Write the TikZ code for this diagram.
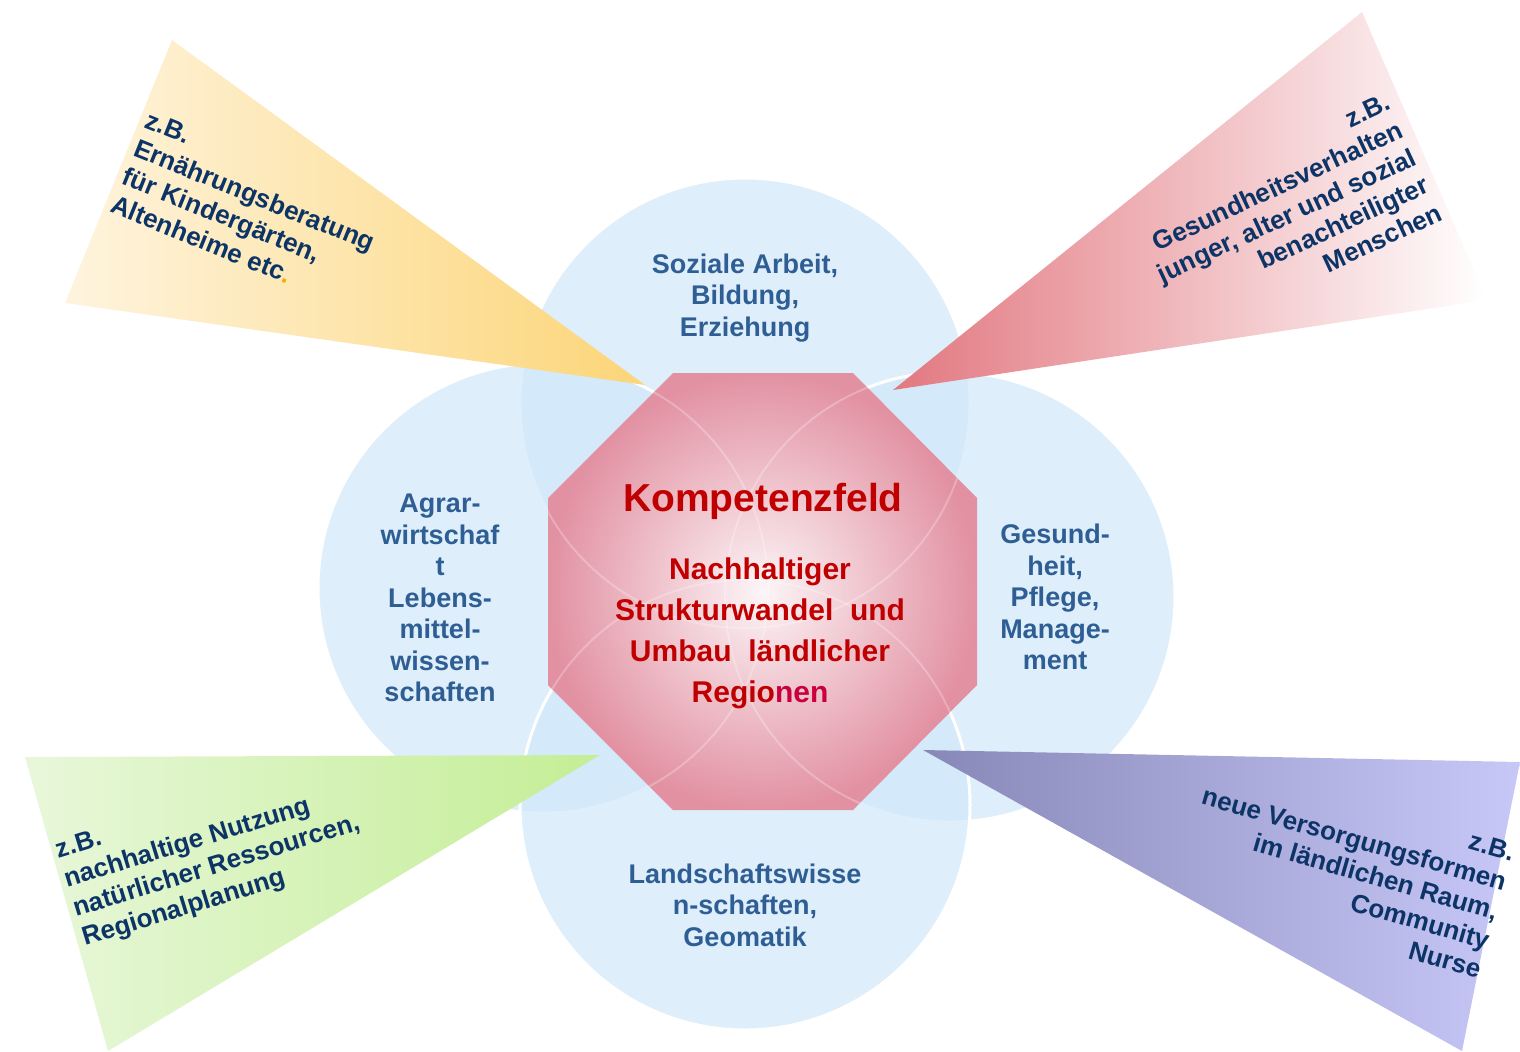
\documentclass[tikz,border=0pt]{standalone}
\usepackage{fontspec}
\setmainfont{Liberation Sans}
\usepackage{xcolor}

\begin{document}
\begin{tikzpicture}[x=0.5pt,y=0.5pt,yscale=-1,xscale=1,
  kreis/.style={fill={rgb, 255:red, 208; green, 231; blue, 248}, fill opacity=0.7, draw=white, draw opacity=1, line width=1.5pt},
  geist/.style={draw=white, draw opacity=0.25, line width=1pt},
  fach/.style={anchor=center, inner sep=0pt, align=center, text={rgb, 255:red, 46; green, 94; blue, 148}, font=\bfseries\fontsize{13.5}{15.75}\selectfont},
  bsp/.style={inner sep=0pt, text={rgb, 255:red, 12; green, 52; blue, 102}, font=\bfseries\fontsize{13}{15.25}\selectfont}]
\useasboundingbox (0,0) rectangle (1520,1051);

%Shape: Circle [top]
\draw [kreis] (745,403) circle [radius=225];
%Shape: Circle [left]
\draw [kreis] (543,588) circle [radius=225];
%Shape: Circle [right]
\draw [kreis] (950,597) circle [radius=225];
%Shape: Circle [bottom]
\draw [kreis] (745,805) circle [radius=225];

%Shape: Triangle [yellow]
\shade [left color={rgb, 255:red, 254; green, 244; blue, 222}, right color={rgb, 255:red, 252; green, 213; blue, 120}] (172,40) -- (65,303) -- (645,385) -- cycle ;
%Shape: Triangle [red]
\shade [left color={rgb, 255:red, 226; green, 120; blue, 128}, right color=white] (893,390) -- (1362,12) -- (1487,300) -- cycle ;
%Shape: Triangle [green]
\shade [left color={rgb, 255:red, 232; green, 247; blue, 218}, right color={rgb, 255:red, 196; green, 238; blue, 150}] (25,757) -- (600,755) -- (108,1051) -- cycle ;
%Shape: Triangle [purple]
\shade [left color={rgb, 255:red, 136; green, 136; blue, 184}, right color={rgb, 255:red, 200; green, 200; blue, 248}] (923,750) -- (1520,762) -- (1462,1051) -- cycle ;

%Shape: Octagon
\shade [inner color={rgb, 255:red, 252; green, 245; blue, 247}, outer color={rgb, 255:red, 226; green, 145; blue, 162}] (673,373) -- (853,373) -- (977,498) -- (977,685) -- (853,810) -- (673,810) -- (548,685) -- (548,498) -- cycle ;
\begin{scope}
\clip (673,373) -- (853,373) -- (977,498) -- (977,685) -- (853,810) -- (673,810) -- (548,685) -- (548,498) -- cycle ;
\draw [geist] (745,403) circle [radius=225];
\draw [geist] (543,588) circle [radius=225];
\draw [geist] (950,597) circle [radius=225];
\draw [geist] (745,805) circle [radius=225];
\end{scope}

% Text Node
\draw (745,298) node [fach] (soziales) {Soziale Arbeit,\\Bildung,\\Erziehung};
% Text Node
\draw (440,598) node [fach] (agrar) {Agrar-\\wirtschaf\\t\\Lebens-\\mittel-\\wissen-\\schaften};
% Text Node
\draw (1055,597) node [fach] (gesund) {Gesund-\\heit,\\Pflege,\\Manage-\\ment};
% Text Node
\draw (745,905) node [fach] (landschaft) {Landschaftswisse\\n-schaften,\\Geomatik};

% Text Node
\draw (763,501) node [anchor=center][inner sep=0pt][text={rgb, 255:red, 192; green, 0; blue, 0}, font=\bfseries\fontsize{19.5}{23}\selectfont] (kompetenz) {Kompetenzfeld};
% Text Node
\draw (760,633) node [anchor=center][inner sep=0pt][align=center][text={rgb, 255:red, 192; green, 0; blue, 0}, font=\bfseries\fontsize{15}{20.5}\selectfont] (leitthema) {Nachhaltiger\\Strukturwandel\ \ und\\Umbau\ \ ländlicher\\Regio\textcolor{rgb, 255:red, 200; green, 0; blue, 60}{nen}};

% Text Node
\draw (150,110) node [bsp, anchor=north west, align=left, rotate=-22] (ernaehrung) {z.B.\\Ernährungsberatung\\für Kindergärten,\\Altenheime etc\textcolor{rgb, 255:red, 240; green, 176; blue, 0}{.}};
% Text Node
\draw (1385,92) node [bsp, anchor=north east, align=right, rotate=25] (verhalten) {z.B.\\Gesundheitsverhalten\\junger, alter und sozial\\benachteiligter\\Menschen};
% Text Node
\draw (53,841) node [bsp, anchor=north west, align=left, rotate=17] (ressourcen) {z.B.\\nachhaltige Nutzung\\natürlicher Ressourcen,\\Regionalplanung};
% Text Node
\draw (1517,844) node [bsp, anchor=north east, align=right, rotate=-16] (versorgung) {z.B.\\neue Versorgungsformen\\im ländlichen Raum,\\Community\\Nurse};

\end{tikzpicture}
\end{document}
